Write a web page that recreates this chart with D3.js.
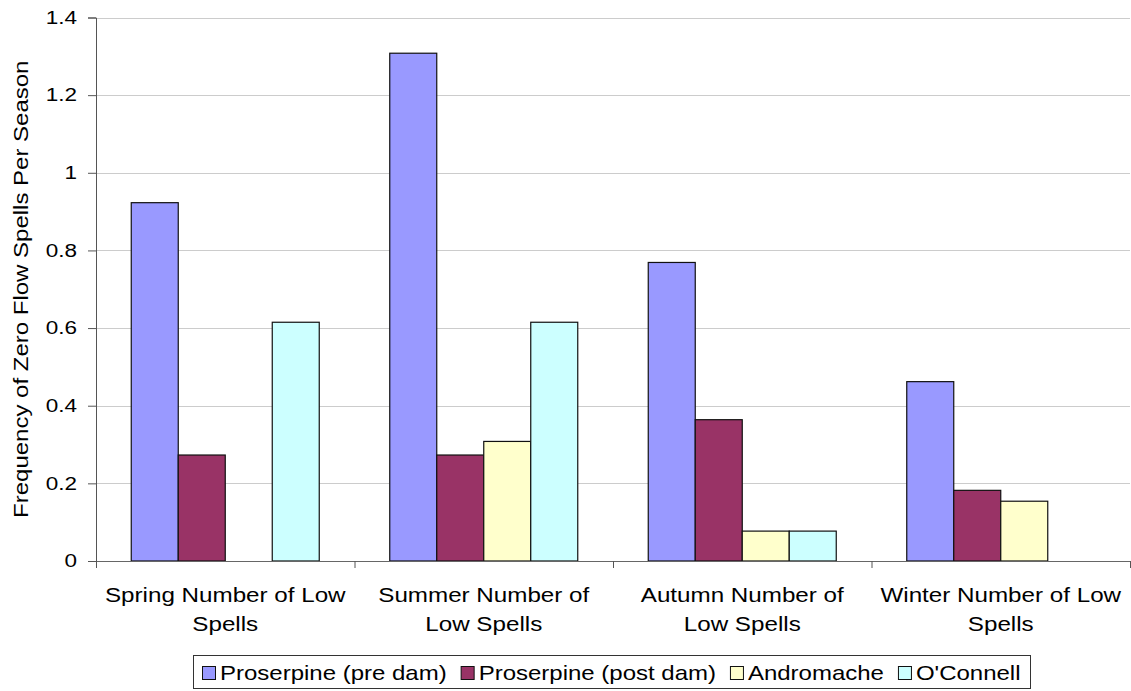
<!DOCTYPE html>
<html>
<head>
<meta charset="utf-8">
<script src="https://cdn.jsdelivr.net/npm/d3@7"></script>
<style>
  html, body { margin: 0; padding: 0; background: #ffffff; }
  svg { display: block; font-family: "Liberation Sans", Arial, sans-serif; }
</style>
</head>
<body>
<svg id="chart" width="1131" height="691"></svg>
<script>
// Seasonal categories (two-line labels)
const categories = [
  ["Spring Number of Low", "Spells"],
  ["Summer Number of", "Low Spells"],
  ["Autumn Number of", "Low Spells"],
  ["Winter Number of Low", "Spells"]
];
const seriesNames = ["Proserpine (pre dam)", "Proserpine (post dam)", "Andromache", "O'Connell"];
const preDam = [0.923, 1.308, 0.769, 0.462];
const postDam = [0.273, 0.273, 0.364, 0.182];
const andromache = [null, 0.308, 0.077, 0.154];
const oConnell = [0.615, 0.615, 0.077, null];
const yTicks = [0, 0.2, 0.4, 0.6, 0.8, 1, 1.2, 1.4];
const colors = ["#9999ff", "#993366", "#ffffcc", "#ccffff"];

const series = [preDam, postDam, andromache, oConnell];

// wide text: glyphs are stretched along the reading direction
const WIDE = 1.21;

const svg = d3.select("#chart");
const plot = { left: 96, right: 1130, top: 17.5, bottom: 561 };

const y = d3.scaleLinear().domain([0, 1.4]).range([plot.bottom, plot.top]);
const x0 = d3.scaleBand().domain(d3.range(categories.length))
  .range([plot.left, plot.right]).paddingInner(0).paddingOuter(0);
// bars fill 4/(4+1.5) of each category band (gap = 150% of a bar)
const groupFrac = 4 / 5.5;
const x1 = d3.scaleBand().domain(d3.range(series.length))
  .range([0, x0.bandwidth() * groupFrac]);
const groupOffset = x0.bandwidth() * (1 - groupFrac) / 2;

// gridlines
svg.append("g").selectAll("line")
  .data(yTicks.filter(d => d > 0))
  .join("line")
  .attr("x1", plot.left).attr("x2", plot.right)
  .attr("y1", d => Math.round(y(d)) + 0.5).attr("y2", d => Math.round(y(d)) + 0.5)
  .attr("stroke", "#cccccc").attr("stroke-width", 1);

// bars
const barData = [];
series.forEach((vals, si) => vals.forEach((v, ci) => {
  if (v != null) barData.push({ si, ci, v });
}));
svg.append("g").selectAll("rect")
  .data(barData)
  .join("rect")
  .attr("x", d => x0(d.ci) + groupOffset + x1(d.si))
  .attr("y", d => y(d.v))
  .attr("width", x1.bandwidth())
  .attr("height", d => y(0) - y(d.v))
  .attr("fill", d => colors[d.si])
  .attr("stroke", "#111111")
  .attr("stroke-width", 1.2);

// y axis
const yAxis = d3.axisLeft(y).tickValues(yTicks).tickSize(8).tickPadding(0)
  .tickFormat(d => d3.format("~g")(d));
const gy = svg.append("g").attr("transform", `translate(${plot.left},0)`).call(yAxis);
gy.select(".domain").attr("stroke", "#555555");
gy.selectAll(".tick line").attr("stroke", "#555555");
gy.selectAll(".tick text")
  .attr("font-size", 18).attr("fill", "#000")
  .attr("font-family", "Liberation Sans, Arial, sans-serif")
  .attr("x", -19 / 1.25)
  .attr("transform", "scale(1.25,1)");

// x axis line and boundary ticks
svg.append("line")
  .attr("x1", plot.left).attr("x2", plot.right)
  .attr("y1", plot.bottom + 0.5).attr("y2", plot.bottom + 0.5)
  .attr("stroke", "#666666");
svg.append("g").selectAll("line")
  .data(d3.range(categories.length + 1))
  .join("line")
  .attr("x1", i => (i < categories.length ? x0(i) : plot.right) + 0.5)
  .attr("x2", i => (i < categories.length ? x0(i) : plot.right) + 0.5)
  .attr("y1", plot.bottom).attr("y2", plot.bottom + 7)
  .attr("stroke", "#555555");

// category labels
const catG = svg.append("g").selectAll("g")
  .data(categories)
  .join("g")
  .attr("transform", (d, i) => `translate(${x0(i) + x0.bandwidth() / 2},0) scale(${WIDE},1)`);
catG.each(function(lines) {
  d3.select(this).selectAll("text")
    .data(lines)
    .join("text")
    .attr("text-anchor", "middle")
    .attr("font-size", 20)
    .attr("fill", "#000")
    .attr("x", 0)
    .attr("y", (d, j) => 602 + j * 29)
    .text(d => d);
});

// y axis title
svg.append("text")
  .attr("transform", `translate(28,${(plot.top + plot.bottom) / 2}) rotate(-90) scale(1.2,1)`)
  .attr("text-anchor", "middle")
  .attr("font-size", 20)
  .attr("fill", "#000")
  .text("Frequency of Zero Flow Spells Per Season");

// legend
const LEG = 1.2;
const legend = svg.append("g");
legend.append("rect")
  .attr("x", 193.5).attr("y", 655.5).attr("width", 837).attr("height", 33)
  .attr("fill", "#fff").attr("stroke", "#333").attr("stroke-width", 1);
let lx = 202;
seriesNames.forEach((name, i) => {
  legend.append("rect")
    .attr("x", lx + 0.5).attr("y", 666.5).attr("width", 13).attr("height", 13)
    .attr("fill", colors[i]).attr("stroke", "#111").attr("stroke-width", 1);
  const t = legend.append("text")
    .attr("transform", `translate(${lx + 18},680) scale(${LEG},1)`)
    .attr("font-size", 20).attr("fill", "#000")
    .text(name);
  lx += 18 + t.node().getComputedTextLength() * LEG + 14;
});
</script>
</body>
</html>
